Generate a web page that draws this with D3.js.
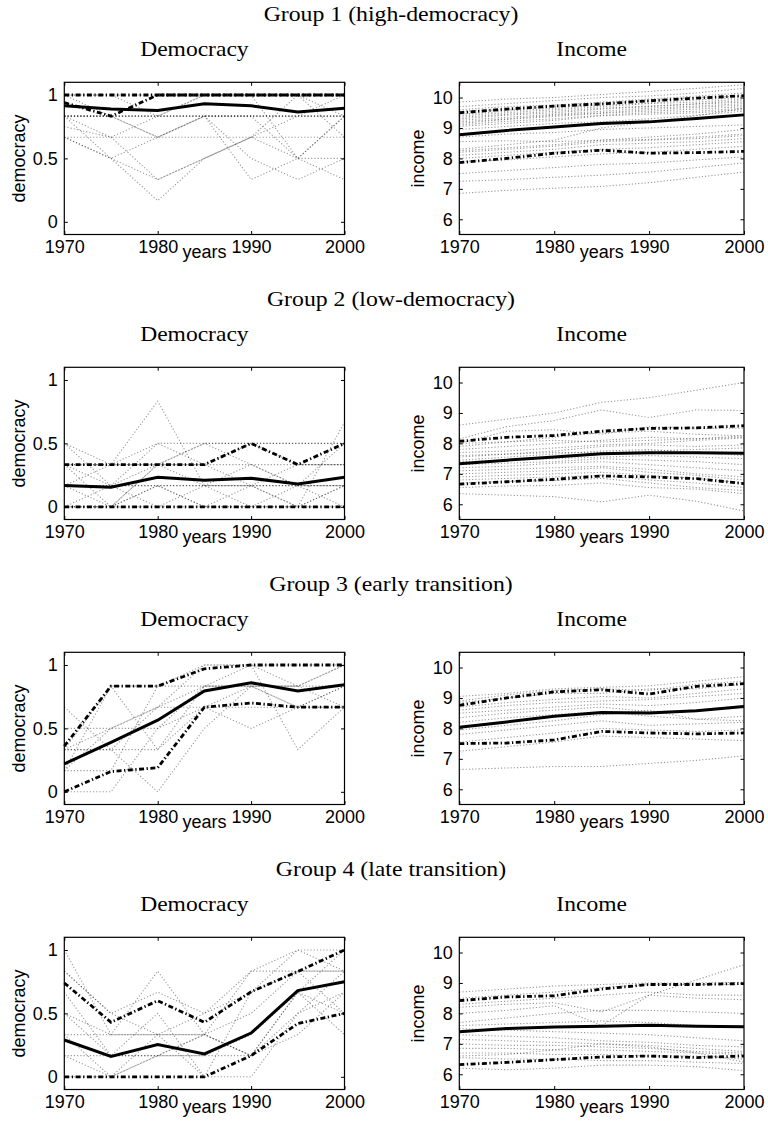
<!DOCTYPE html>
<html>
<head>
<meta charset="utf-8">
<script src="https://cdn.jsdelivr.net/npm/d3@7"></script>
<style>
  body { margin: 0; background: #fff; }
  svg { display: block; }
</style>
</head>
<body>
<svg id="chart" width="768" height="1128"></svg>
<script>
// ---- shared axes data ----
const years = [1970, 1975, 1980, 1985, 1990, 1995, 2000];
const yearTicks = [1970, 1980, 1990, 2000];
const democracyTicks = [0, 0.5, 1];
const incomeTicks = [6, 7, 8, 9, 10];
const groupTitles = [
  "Group 1 (high-democracy)",
  "Group 2 (low-democracy)",
  "Group 3 (early transition)",
  "Group 4 (late transition)"
];

// ---- Group 1 (high-democracy) ----
const g1DemMean = [0.915, 0.89, 0.877, 0.93, 0.915, 0.865, 0.895];
const g1DemHigh = [1, 1, 1, 1, 1, 1, 1];
const g1DemLow  = [0.94, 0.833, 1, 1, 1, 1, 1];
const g1DemCountries = [
  [1, 1, 1, 1, 1, 1, 1],
  [0.833, 0.833, 0.833, 0.833, 0.833, 0.833, 0.833],
  [0.833, 0.833, 0.833, 0.833, 0.833, 0.833, 0.833],
  [0.833, 0.833, 0.833, 0.833, 0.833, 0.833, 0.833],
  [0.833, 0.5, 0.667, 0.833, 0.833, 0.5, 0.833],
  [0.833, 0.667, 0.333, 0.5, 0.667, 0.833, 1],
  [0.667, 0.5, 0.167, 0.5, 0.667, 0.667, 0.667],
  [0.75, 0.667, 0.833, 1, 1, 1, 0.833],
  [0.667, 0.667, 0.667, 0.833, 0.333, 0.5, 0.5],
  [1, 0.833, 0.667, 0.833, 0.5, 0.333, 0.5],
  [0.833, 0.833, 0.667, 0.667, 0.667, 0.5, 0.333],
  [0.667, 0.5, 0.333, 0.5, 0.667, 1, 0.667],
  [1, 1, 0.833, 1, 1, 0.5, 0.833]
];
const g1IncMean = [8.78, 8.92, 9.03, 9.15, 9.2, 9.31, 9.43];
const g1IncHigh = [9.5, 9.62, 9.72, 9.79, 9.89, 9.98, 10.06];
const g1IncLow  = [7.86, 8.0, 8.17, 8.27, 8.17, 8.19, 8.23];
const g1IncCountries = [
  [9.85, 9.95, 10.0, 10.1, 10.2, 10.3, 10.42],
  [9.7, 9.8, 9.9, 10.0, 10.05, 10.15, 10.3],
  [9.6, 9.7, 9.75, 9.85, 9.95, 10.05, 10.15],
  [9.55, 9.6, 9.7, 9.8, 9.9, 10.0, 10.05],
  [9.45, 9.55, 9.65, 9.75, 9.82, 9.92, 10.0],
  [9.4, 9.5, 9.6, 9.7, 9.8, 9.85, 9.95],
  [9.35, 9.45, 9.55, 9.65, 9.72, 9.8, 9.9],
  [9.3, 9.42, 9.5, 9.62, 9.7, 9.78, 9.85],
  [9.25, 9.35, 9.45, 9.55, 9.65, 9.72, 9.8],
  [9.2, 9.3, 9.42, 9.5, 9.6, 9.68, 9.75],
  [9.15, 9.28, 9.38, 9.48, 9.55, 9.62, 9.7],
  [9.1, 9.22, 9.3, 9.42, 9.5, 9.55, 9.65],
  [9.05, 9.15, 9.25, 9.4, 9.45, 9.5, 9.6],
  [8.95, 9.05, 9.15, 9.2, 9.3, 9.42, 9.55],
  [8.7, 8.8, 8.85, 8.95, 9.0, 9.05, 9.1],
  [8.3, 8.45, 8.6, 9.0, 9.2, 9.4, 9.65],
  [8.25, 8.35, 8.45, 8.6, 8.7, 8.8, 8.95],
  [8.2, 8.3, 8.4, 8.55, 8.6, 8.65, 8.75],
  [8.1, 8.2, 8.3, 8.45, 8.5, 8.55, 8.65],
  [8.0, 8.1, 8.2, 8.3, 8.35, 8.45, 8.55],
  [7.9, 7.95, 8.05, 8.15, 8.2, 8.3, 8.4],
  [7.5, 7.6, 7.7, 7.8, 7.85, 7.95, 8.05],
  [7.25, 7.3, 7.38, 7.45, 7.55, 7.7, 7.85],
  [6.85, 6.95, 7.02, 7.08, 7.2, 7.38, 7.55],
  [8.55, 8.58, 8.55, 8.6, 8.62, 8.7, 8.8]
];

// ---- Group 2 (low-democracy) ----
const g2DemMean = [0.168, 0.155, 0.233, 0.21, 0.225, 0.18, 0.233];
const g2DemHigh = [0.333, 0.333, 0.333, 0.333, 0.5, 0.333, 0.5];
const g2DemLow  = [0, 0, 0, 0, 0, 0, 0];
const g2DemCountries = [
  [0.5, 0.333, 0.5, 0.5, 0.5, 0.5, 0.5],
  [0.333, 0.333, 0.833, 0.167, 0.167, 0, 0.667],
  [0.167, 0.167, 0.167, 0.167, 0.167, 0.167, 0.167],
  [0.167, 0.167, 0.167, 0.167, 0.167, 0.167, 0.167],
  [0.5, 0.167, 0.333, 0.333, 0.333, 0.333, 0.333],
  [0, 0, 0.333, 0.5, 0.333, 0.167, 0.167],
  [0.333, 0, 0.167, 0, 0.167, 0.333, 0.333],
  [0.167, 0.333, 0.333, 0.5, 0.5, 0.5, 0.5],
  [0, 0, 0, 0, 0, 0, 0],
  [0, 0, 0.167, 0, 0, 0, 0.167],
  [0.167, 0, 0.333, 0.167, 0, 0.167, 0.5],
  [0.333, 0.167, 0.5, 0.333, 0.167, 0, 0.167],
  [0, 0.167, 0, 0.167, 0.333, 0.167, 0],
  [0.333, 0.333, 0.333, 0.333, 0.5, 0.333, 0.333]
];
const g2IncMean = [7.33, 7.45, 7.55, 7.66, 7.69, 7.69, 7.68];
const g2IncHigh = [8.07, 8.2, 8.26, 8.4, 8.49, 8.51, 8.58];
const g2IncLow  = [6.66, 6.74, 6.82, 6.93, 6.9, 6.84, 6.68];
const g2IncCountries = [
  [8.6, 8.8, 9.0, 9.35, 9.5, 9.75, 10.0],
  [8.15, 8.55, 8.75, 9.1, 8.85, 9.1, 9.08],
  [8.0, 8.4, 8.45, 8.3, 8.55, 8.5, 8.5],
  [7.9, 8.05, 8.2, 8.35, 8.4, 8.3, 8.25],
  [7.8, 7.9, 8.0, 8.1, 8.2, 8.15, 8.2],
  [7.7, 7.75, 7.85, 7.95, 8.0, 8.1, 8.18],
  [7.55, 7.65, 7.75, 7.9, 7.95, 7.9, 7.95],
  [7.45, 7.55, 7.65, 7.75, 7.8, 7.7, 7.6],
  [7.4, 7.45, 7.5, 7.55, 7.6, 7.55, 7.5],
  [7.3, 7.35, 7.4, 7.5, 7.45, 7.4, 7.3],
  [7.2, 7.25, 7.35, 7.4, 7.3, 7.2, 7.1],
  [7.1, 7.15, 7.2, 7.25, 7.15, 7.0, 6.9],
  [7.0, 7.05, 7.1, 7.2, 7.05, 6.95, 6.8],
  [6.9, 6.95, 7.0, 7.05, 6.95, 6.85, 6.7],
  [6.8, 6.85, 6.9, 6.95, 6.8, 6.7, 6.55],
  [6.7, 6.75, 6.78, 6.85, 6.7, 6.55, 6.45],
  [6.55, 6.6, 6.62, 6.7, 6.55, 6.5, 6.35],
  [6.35, 6.3, 6.25, 6.08, 6.3, 6.1, 5.78],
  [7.6, 7.65, 7.7, 7.7, 7.75, 7.8, 7.85],
  [8.0, 8.05, 8.1, 8.05, 8.1, 8.15, 8.25]
];

// ---- Group 3 (early transition) ----
const g3DemMean = [0.22, 0.39, 0.565, 0.795, 0.86, 0.795, 0.845];
const g3DemHigh = [0.36, 0.833, 0.833, 0.97, 1, 1, 1];
const g3DemLow  = [0, 0.16, 0.19, 0.667, 0.7, 0.667, 0.667];
const g3DemCountries = [
  [0.333, 0.833, 0.833, 1, 1, 1, 1],
  [0.333, 0.333, 0.333, 0.833, 0.833, 0.833, 0.667],
  [0.667, 0.333, 0, 0.5, 0.833, 0.667, 0.667],
  [0, 0, 0.5, 0.667, 0.5, 0.667, 0.833],
  [0.167, 0.5, 0.5, 0.833, 1, 0.333, 0.667],
  [0.167, 0.167, 0.833, 0.833, 0.833, 0.833, 0.833],
  [0.333, 0.5, 0.667, 0.667, 0.833, 0.833, 1],
  [0.167, 0.833, 0.333, 0.667, 0.667, 0.667, 0.667],
  [0.333, 0.333, 0.667, 1, 1, 0.833, 1],
  [0.5, 0.5, 0.667, 0.833, 0.833, 0.667, 0.833]
];
const g3IncMean = [8.04, 8.21, 8.4, 8.52, 8.51, 8.58, 8.72];
const g3IncHigh = [8.76, 9.0, 9.2, 9.27, 9.13, 9.38, 9.47];
const g3IncLow  = [7.5, 7.52, 7.62, 7.9, 7.85, 7.82, 7.85];
const g3IncCountries = [
  [9.05, 9.15, 9.3, 9.35, 9.4, 9.55, 9.7],
  [8.9, 9.1, 9.25, 9.3, 9.25, 9.45, 9.55],
  [8.85, 9.0, 9.15, 9.15, 9.3, 9.3, 9.45],
  [8.7, 8.85, 8.95, 9.05, 9.0, 9.15, 9.3],
  [8.6, 8.75, 8.85, 8.9, 8.95, 9.05, 9.15],
  [8.5, 8.6, 8.7, 8.8, 8.75, 8.85, 9.0],
  [8.35, 8.5, 8.6, 8.7, 8.55, 8.6, 8.75],
  [8.2, 8.35, 8.45, 8.55, 8.4, 8.3, 8.4],
  [7.95, 8.1, 8.25, 8.45, 8.6, 8.3, 8.25],
  [7.8, 7.95, 8.1, 8.25, 8.1, 8.15, 8.2],
  [7.55, 7.7, 7.85, 8.0, 7.95, 7.9, 7.95],
  [7.25, 7.4, 7.55, 7.75, 7.7, 7.65, 7.6],
  [6.65, 6.7, 6.75, 6.75, 6.85, 6.95, 7.1]
];

// ---- Group 4 (late transition) ----
const g4DemMean = [0.29, 0.16, 0.255, 0.18, 0.345, 0.68, 0.75];
const g4DemHigh = [0.74, 0.43, 0.6, 0.43, 0.67, 0.83, 1];
const g4DemLow  = [0, 0, 0, 0, 0.167, 0.42, 0.5];
const g4DemCountries = [
  [1, 0.333, 0.833, 0.333, 0.833, 1, 1],
  [0.833, 0.5, 0.667, 0.5, 0.833, 0.833, 0.833],
  [0.5, 0.333, 0.333, 0.333, 0.167, 0.667, 1],
  [0.333, 0.333, 0.333, 0.333, 0.5, 0.833, 0.833],
  [0.167, 0.167, 0.167, 0.167, 0.167, 0.5, 0.833],
  [0.667, 0.167, 0.5, 0, 0, 0.5, 0.667],
  [0, 0, 0.167, 0.167, 0.333, 0.667, 0.333],
  [0.5, 0.167, 0.167, 0.333, 0.167, 0.333, 0.667],
  [0.333, 0, 0.333, 0, 0.667, 1, 0.833],
  [0.167, 0, 0.167, 0.333, 0.167, 0.667, 0.5],
  [0.833, 0.5, 0.333, 0.5, 0.667, 0.833, 0.5]
];
const g4IncMean = [7.4, 7.5, 7.55, 7.58, 7.61, 7.58, 7.56];
const g4IncHigh = [8.42, 8.54, 8.58, 8.8, 8.95, 8.95, 8.98];
const g4IncLow  = [6.32, 6.39, 6.48, 6.57, 6.6, 6.55, 6.6];
const g4IncCountries = [
  [8.7, 8.8, 8.9, 8.95, 9.0, 9.0, 9.02],
  [8.5, 8.6, 8.7, 8.85, 8.95, 8.95, 8.95],
  [8.3, 8.4, 8.5, 8.6, 8.7, 8.6, 8.6],
  [8.2, 8.3, 8.35, 8.05, 8.6, 8.5, 8.45],
  [8.0, 8.1, 8.25, 7.6, 8.6, 9.1, 9.6],
  [7.7, 7.85, 8.0, 8.1, 8.1, 8.05, 8.0],
  [7.6, 7.65, 7.7, 7.75, 7.7, 7.6, 7.55],
  [7.5, 7.45, 7.4, 7.35, 7.3, 7.2, 7.1],
  [7.3, 7.25, 7.2, 7.1, 7.05, 6.95, 6.9],
  [7.15, 7.1, 7.05, 7.0, 6.95, 6.85, 6.75],
  [7.0, 6.95, 6.95, 6.9, 6.85, 6.75, 6.7],
  [6.85, 6.85, 6.8, 6.8, 6.75, 6.7, 6.65],
  [6.7, 6.7, 6.65, 6.65, 6.6, 6.6, 6.5],
  [6.55, 6.5, 6.5, 6.45, 6.45, 6.4, 6.35],
  [6.2, 6.15, 6.2, 6.3, 6.3, 6.25, 6.12],
  [6.6, 6.65, 6.8, 7.0, 6.9, 6.7, 6.4]
];

// ---- panel table built from the arrays above ----
const demPanels = [
  { countries: g1DemCountries, mean: g1DemMean, high: g1DemHigh, low: g1DemLow },
  { countries: g2DemCountries, mean: g2DemMean, high: g2DemHigh, low: g2DemLow },
  { countries: g3DemCountries, mean: g3DemMean, high: g3DemHigh, low: g3DemLow },
  { countries: g4DemCountries, mean: g4DemMean, high: g4DemHigh, low: g4DemLow }
];
const incPanels = [
  { countries: g1IncCountries, mean: g1IncMean, high: g1IncHigh, low: g1IncLow },
  { countries: g2IncCountries, mean: g2IncMean, high: g2IncHigh, low: g2IncLow },
  { countries: g3IncCountries, mean: g3IncMean, high: g3IncHigh, low: g3IncLow },
  { countries: g4IncCountries, mean: g4IncMean, high: g4IncHigh, low: g4IncLow }
];

// ---- layout ----
const rowStep = 285;
const plotTop = 82.3, plotBottom = 234.5;
const leftCol = { x0: 64.3, x1: 344.5, ylabelGap: 39.3 };
const rightCol = { x0: 459.3, x1: 744, ylabelGap: 35.3 };
const serif = "'Liberation Serif', 'Times New Roman', serif";
const sans = "'Liberation Sans', Arial, Helvetica, sans-serif";

const svg = d3.select("#chart");

function stretch(sel, factor) {
  sel.each(function () {
    const w = this.getComputedTextLength();
    d3.select(this).attr("textLength", w * factor).attr("lengthAdjust", "spacingAndGlyphs");
  });
}

function drawPanel(row, col, cfg) {
  const top = plotTop + row * rowStep;
  const bottom = plotBottom + row * rowStep;
  const x = d3.scaleLinear().domain([1970, 2000]).range([col.x0, col.x1]);
  const y = d3.scaleLinear().domain(cfg.domain).range([bottom, top]);
  const g = svg.append("g");

  // panel title
  g.append("text")
    .attr("x", (col.x0 + col.x1) / 2 - 10)
    .attr("y", 55.5 + row * rowStep)
    .attr("text-anchor", "middle")
    .attr("font-family", serif)
    .attr("font-size", 22)
    .attr("fill", "#000")
    .text(cfg.title)
    .call(stretch, 1.07);

  const line = d3.line()
    .x((d, i) => x(years[i]))
    .y(d => y(d));

  // individual country paths (thin dotted grey)
  g.append("g")
    .selectAll("path")
    .data(cfg.data.countries)
    .join("path")
    .attr("d", line)
    .attr("fill", "none")
    .attr("stroke", "#000")
    .attr("stroke-opacity", 0.4)
    .attr("stroke-width", 1.1)
    .attr("stroke-dasharray", "1.2,2");

  // percentile bands (dash-dot)
  g.append("g")
    .selectAll("path")
    .data([cfg.data.high, cfg.data.low])
    .join("path")
    .attr("d", line)
    .attr("fill", "none")
    .attr("stroke", "#000")
    .attr("stroke-width", 2.8)
    .attr("stroke-dasharray", "5,2.5,1.3,2.5");

  // group mean (solid)
  g.append("path")
    .datum(cfg.data.mean)
    .attr("d", line)
    .attr("fill", "none")
    .attr("stroke", "#000")
    .attr("stroke-width", 3);

  // axes with inward ticks on all four sides
  const styleAxis = a => {
    a.select(".domain").remove();
    a.selectAll("line").attr("stroke", "#000").attr("stroke-width", 1);
    a.selectAll("text")
      .attr("font-family", sans)
      .attr("font-size", 18)
      .attr("fill", "#000");
  };
  g.append("g")
    .attr("transform", `translate(0,${bottom})`)
    .call(d3.axisBottom(x).tickValues(yearTicks).tickFormat(d3.format("d"))
      .tickSizeInner(-3.5).tickSizeOuter(0).tickPadding(5.5))
    .call(styleAxis);
  g.append("g")
    .attr("transform", `translate(0,${top})`)
    .call(d3.axisTop(x).tickValues(yearTicks).tickFormat(() => "")
      .tickSizeInner(-3.5).tickSizeOuter(0))
    .call(styleAxis);
  g.append("g")
    .attr("transform", `translate(${col.x0},0)`)
    .call(d3.axisLeft(y).tickValues(cfg.ticks).tickFormat(cfg.format)
      .tickSizeInner(-3.5).tickSizeOuter(0).tickPadding(6.5))
    .call(styleAxis);
  g.append("g")
    .attr("transform", `translate(${col.x1},0)`)
    .call(d3.axisRight(y).tickValues(cfg.ticks).tickFormat(() => "")
      .tickSizeInner(-3.5).tickSizeOuter(0))
    .call(styleAxis);

  // frame
  g.append("rect")
    .attr("x", col.x0).attr("y", top)
    .attr("width", col.x1 - col.x0).attr("height", bottom - top)
    .attr("fill", "none").attr("stroke", "#000").attr("stroke-width", 1.2);

  // axis labels
  g.append("text")
    .attr("x", (col.x0 + col.x1) / 2)
    .attr("y", 258.3 + row * rowStep)
    .attr("text-anchor", "middle")
    .attr("font-family", sans).attr("font-size", 18).attr("fill", "#000")
    .text("years");
  g.append("text")
    .attr("transform", `translate(${col.x0 - col.ylabelGap},${(top + bottom) / 2}) rotate(-90)`)
    .attr("text-anchor", "middle")
    .attr("font-family", sans).attr("font-size", 18).attr("fill", "#000")
    .text(cfg.ylabel);
}

groupTitles.forEach((title, row) => {
  svg.append("text")
    .attr("x", 391)
    .attr("y", 21 + row * rowStep)
    .attr("text-anchor", "middle")
    .attr("font-family", serif)
    .attr("font-size", 22)
    .attr("fill", "#000")
    .text(title)
    .call(stretch, 1.08);

  drawPanel(row, leftCol, {
    title: "Democracy",
    ylabel: "democracy",
    domain: [-0.1, 1.1],
    ticks: democracyTicks,
    format: d3.format("~g"),
    data: demPanels[row]
  });
  drawPanel(row, rightCol, {
    title: "Income",
    ylabel: "income",
    domain: [5.5, 10.5],
    ticks: incomeTicks,
    format: d3.format("d"),
    data: incPanels[row]
  });
});
</script>
</body>
</html>
